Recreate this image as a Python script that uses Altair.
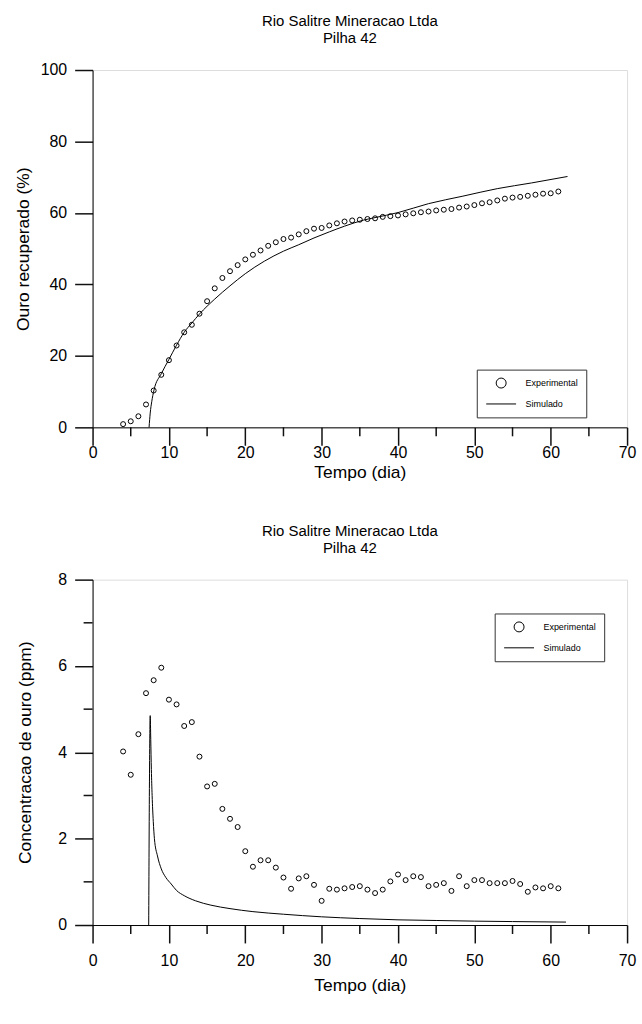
import altair as alt
import pandas as pd

# ---------------- data ----------------
dias = list(range(4, 62))

ouro_exp = [0.9, 1.7, 3.1, 6.4, 10.3, 14.7, 18.8, 22.9, 26.6, 28.7,
            31.8, 35.3, 38.9, 41.8, 43.7, 45.4, 47.0, 48.3, 49.5, 50.8,
            51.8, 52.7, 53.1, 54.0, 54.9, 55.6, 55.8, 56.5, 57.1, 57.6,
            57.9, 58.1, 58.3, 58.5, 58.9, 59.1, 59.3, 59.6, 59.9, 60.2,
            60.4, 60.7, 60.9, 61.1, 61.5, 61.8, 62.2, 62.7, 63.0, 63.5,
            64.0, 64.3, 64.5, 64.8, 65.1, 65.4, 65.5, 66.0]

sim_t_top = [7.4, 7.55, 7.75, 8.04, 9.0, 10.0, 11.0, 12.0, 13.0, 14.0,
             16.0, 18.0, 20.0, 22.5, 25.0, 27.0, 29.0, 31.0, 33.0, 35.5,
             37.0, 40.0, 44.0, 48.5, 53.0, 57.5, 62.2]
sim_v_top = [0.0, 4.0, 7.2, 10.4, 15.0, 19.0, 23.0, 26.6, 29.2, 31.7,
             35.9, 39.6, 43.0, 46.5, 49.3, 51.1, 53.0, 54.7, 56.3, 58.0,
             58.7, 60.1, 62.6, 64.7, 66.8, 68.4, 70.2]

conc_exp = [4.02, 3.48, 4.42, 5.37, 5.67, 5.96, 5.22, 5.11, 4.61, 4.70,
            3.90, 3.21, 3.27, 2.69, 2.46, 2.27, 1.71, 1.35, 1.50, 1.50,
            1.33, 1.10, 0.84, 1.08, 1.13, 0.93, 0.56, 0.84, 0.82, 0.85,
            0.88, 0.90, 0.82, 0.74, 0.82, 1.01, 1.17, 1.04, 1.13, 1.11,
            0.90, 0.93, 0.97, 0.79, 1.13, 0.90, 1.04, 1.04, 0.97, 0.97,
            0.97, 1.02, 0.95, 0.77, 0.87, 0.85, 0.90, 0.85]

sim_t_bot = [7.35, 7.55, 7.62, 7.7, 7.8, 7.95, 8.1, 8.5, 9.0, 9.6,
             10.3, 11.0, 12.0, 13.5, 15.5, 18.0, 21.0, 25.0, 30.0, 35.0,
             40.0, 45.0, 50.0, 55.0, 62.0]
sim_v_bot = [0.0, 4.85, 4.3, 3.6, 3.0, 2.4, 2.0, 1.6, 1.3, 1.1,
             0.95, 0.8, 0.68, 0.56, 0.46, 0.38, 0.31, 0.25, 0.19, 0.15,
             0.12, 0.105, 0.09, 0.08, 0.068]

series = ["Experimental", "Simulado"]
title_lines = ["Rio Salitre Mineracao Ltda", "Pilha 42"]
x_major = list(range(0, 80, 10))
x_minor = list(range(5, 70, 10))
y_major_top = list(range(0, 110, 10))
y_major_bot = list(range(0, 10, 2))
y_minor_bot = list(range(1, 9, 2))

FONT = "Liberation Sans"
TICK = "#111"
TW = 1.5

df_top_exp = pd.DataFrame({"t": dias, "v": ouro_exp, "serie": series[0]})
df_top_sim = pd.DataFrame({"t": sim_t_top, "v": sim_v_top})
df_bot_exp = pd.DataFrame({"t": dias, "v": conc_exp, "serie": series[0]})
df_bot_sim = pd.DataFrame({"t": sim_t_bot, "v": sim_v_bot})


def x_axis(lab_pad, title_pad):
    return alt.Axis(
        values=x_major, ticks=True, tickSize=18, tickWidth=TW, tickColor=TICK,
        tickOpacity=1, labelPadding=lab_pad,
        labelFont=FONT, labelFontSize=16, labelColor="black",
        title="Tempo (dia)", titleFont=FONT, titleFontSize=17.5,
        titleFontWeight="normal", titleColor="black", titlePadding=title_pad,
        grid=False, domainColor="black", domainWidth=1,
        labelFlush=False, labelOverlap=False, zindex=1,
    )


def y_axis(values, label_expr, title, title_pad):
    return alt.Axis(
        values=values, labelExpr=label_expr, ticks=True, tickSize=18,
        tickWidth=TW, tickColor=TICK, tickOpacity=1, labelPadding=8,
        labelFont=FONT, labelFontSize=16, labelColor="black",
        title=title, titleFont=FONT, titleFontSize=17.5,
        titleFontWeight="normal", titleColor="black", titlePadding=title_pad,
        grid=False, domainColor="black", domainWidth=1,
        labelFlush=False, labelOverlap=False, zindex=1,
    )


def legend(lx, ly):
    return alt.Legend(
        title=None, orient="none", legendX=lx, legendY=ly,
        labelFont=FONT, labelFontSize=9, labelColor="black",
        symbolSize=100, symbolStrokeWidth=1, symbolStrokeColor="black",
        symbolFillColor="transparent",
        strokeColor="#333", fillColor="white", padding=8,
        symbolOffset=11, labelOffset=19, rowPadding=8,
    )


def panel(df_exp, df_sim, ymax, y_vals, y_expr, y_minor, ytitle, h,
          lx, ly, xlab_pad, xtitle_pad, ytitle_pad):
    xs = alt.Scale(domain=[0, 70], nice=False)
    ys = alt.Scale(domain=[0, ymax], nice=False)
    pts = alt.Chart(df_exp).mark_point(
        filled=False, size=25, strokeWidth=1, color="black", opacity=1
    ).encode(
        x=alt.X("t:Q", scale=xs, axis=x_axis(xlab_pad, xtitle_pad)),
        y=alt.Y("v:Q", scale=ys, axis=y_axis(y_vals, y_expr, ytitle, ytitle_pad)),
        shape=alt.Shape("serie:N",
                        scale=alt.Scale(domain=series, range=["circle", "M-3,0H3"]),
                        legend=legend(lx, ly)),
    )
    line = alt.Chart(df_sim).mark_line(
        color="black", strokeWidth=1, interpolate="monotone"
    ).encode(x=alt.X("t:Q", scale=xs), y=alt.Y("v:Q", scale=ys))

    # short minor tick marks outside the frame
    xm = alt.Chart(pd.DataFrame({"t": x_minor})).mark_rule(
        color=TICK, strokeWidth=TW, clip=False
    ).encode(x=alt.X("t:Q", scale=xs), y=alt.value(h), y2=alt.value(h + 9))
    layers = [pts, line, xm]
    if y_minor:
        ym = alt.Chart(pd.DataFrame({"v": y_minor})).mark_rule(
            color=TICK, strokeWidth=TW, clip=False
        ).encode(y=alt.Y("v:Q", scale=ys), x=alt.value(-9), x2=alt.value(0))
        layers.append(ym)
    return alt.layer(*layers).properties(
        width=537, height=h,
        title=alt.TitleParams(text=title_lines, font=FONT, fontSize=15,
                              fontWeight="normal", color="black",
                              anchor="middle", frame="group", offset=16,
                              lineHeight=17, dx=-10),
    )


top = panel(df_top_exp, df_top_sim, 100, y_major_top,
            "datum.value % 20 === 0 ? datum.label : ''", None,
            "Ouro recuperado (%)", 359, 386, 301, -1, 3, 8)
bot = panel(df_bot_exp, df_bot_sim, 8, y_major_bot, "datum.label",
            y_minor_bot, "Concentracao de ouro  (ppm)", 347, 404, 34, 10, 8, 23)

chart = alt.vconcat(top, bot, spacing=42).resolve_legend(
    shape="independent"
).properties(
    padding={"left": 13, "top": 11, "right": 5, "bottom": 5}
).configure_view(stroke="#222", strokeWidth=1).configure(background="white")

chart.save("out.html", embed_options={"renderer": "svg", "actions": False})
